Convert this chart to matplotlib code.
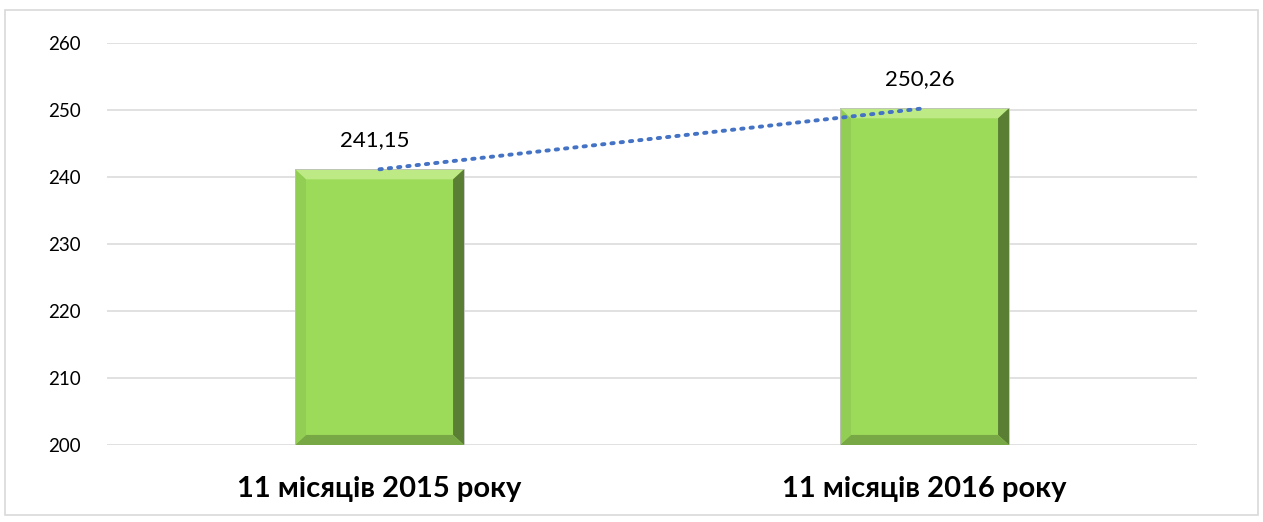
import numpy as np
import matplotlib
matplotlib.use("Agg")
import matplotlib.pyplot as plt
from matplotlib.patches import Polygon, Rectangle

categories = ["11 місяців 2015 року", "11 місяців 2016 року"]
values = [241.15, 250.26]
value_labels = ["241,15", "250,26"]
y_ticks = [200, 210, 220, 230, 240, 250, 260]

plt.rcParams["font.family"] = ["Lato", "DejaVu Sans"]

fig = plt.figure(figsize=(12.63, 5.22), dpi=100)
ax = fig.add_axes([107 / 1263, 1 - 445 / 522, 1090 / 1263, 402 / 522])

# outer chart border
fig.patches.append(Rectangle((5 / 1263, 7 / 522), 1253 / 1263, 505 / 522,
                             transform=fig.transFigure, fill=False,
                             edgecolor="#D9D9D9", linewidth=1.2, zorder=0))

x = np.arange(len(categories))
bw = 0.31
base = y_ticks[0]
ax.bar(x, np.array(values) - base, bottom=base, width=bw, color="#9CDA5A",
       edgecolor="none", zorder=2)

# bevel effect
bx = 0.02
by = 1.5
for xi, v in zip(x, values):
    l, r = xi - bw / 2, xi + bw / 2
    t, b = v, base
    faces = [
        ([(l, t), (r, t), (r - bx, t - by), (l + bx, t - by)], "#BDEA85"),
        ([(r, t), (r, b), (r - bx, b + by), (r - bx, t - by)], "#5A7E33"),
        ([(l, b), (r, b), (r - bx, b + by), (l + bx, b + by)], "#78A845"),
        ([(l, t), (l, b), (l + bx, b + by), (l + bx, t - by)], "#92CE54"),
    ]
    for pts, col in faces:
        ax.add_patch(Polygon(pts, closed=True, facecolor=col, edgecolor="none",
                             zorder=3))
    ax.add_patch(Rectangle((l, b), bw, t - b, fill=False, edgecolor="#BFBFBF",
                           linewidth=0.6, zorder=3))

# linear trend (two points)
coef = np.polyfit(x, values, 1)
ax.plot(x, np.polyval(coef, x), color="#4472C4", linewidth=2.8,
        linestyle=(0, (0.6, 1.8)), dash_capstyle="round", zorder=4)

for xi, v, lab in zip(x, values, value_labels):
    ax.text(xi - 0.008, v + 4.3, lab, ha="center", va="center",
            fontsize=16, color="#000000", zorder=5)

ax.set_xlim(-0.5, 1.5)
ax.set_ylim(200, 260)
ax.set_yticks(y_ticks)
ax.set_xticks(x)
ax.set_xticklabels(categories, fontsize=21, fontweight="bold")
ax.tick_params(axis="y", length=0, labelsize=13.5, pad=19)
ax.tick_params(axis="x", length=0, pad=22)
ax.grid(axis="y", color="#D9D9D9", linewidth=1.1, zorder=0)
ax.set_axisbelow(True)
for s in ax.spines.values():
    s.set_visible(False)

fig.savefig("out.png", dpi=100)
